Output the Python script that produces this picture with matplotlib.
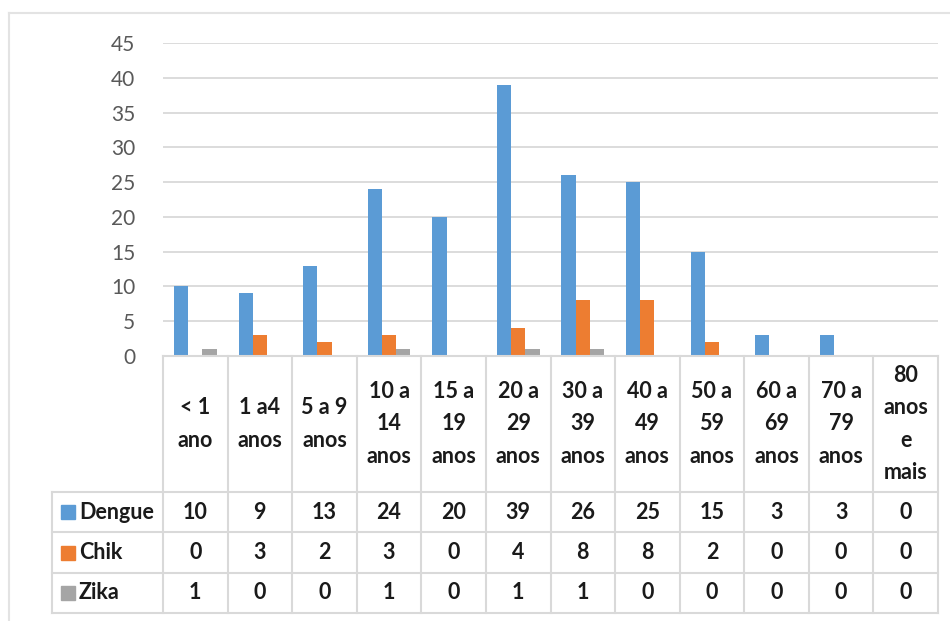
import matplotlib
matplotlib.use("Agg")
import matplotlib.pyplot as plt
from matplotlib.lines import Line2D
from matplotlib.patches import Rectangle
import numpy as np

plt.rcParams['font.family'] = ['Lato', 'DejaVu Sans']

categories = ["< 1\nano", "1 a4\nanos", "5 a 9\nanos", "10 a\n14\nanos", "15 a\n19\nanos",
              "20 a\n29\nanos", "30 a\n39\nanos", "40 a\n49\nanos", "50 a\n59\nanos",
              "60 a\n69\nanos", "70 a\n79\nanos", "80\nanos\ne\nmais"]
series_names = ["Dengue", "Chik", "Zika"]
dengue = [10, 9, 13, 24, 20, 39, 26, 25, 15, 3, 3, 0]
chik = [0, 3, 2, 3, 0, 4, 8, 8, 2, 0, 0, 0]
zika = [1, 0, 0, 1, 0, 1, 1, 0, 0, 0, 0, 0]
yticks = [0, 5, 10, 15, 20, 25, 30, 35, 40, 45]

colors = ["#5B9BD5", "#ED7D31", "#A5A5A5"]
grid_c = "#D9D9D9"
W, H = 950, 621

fig = plt.figure(figsize=(W / 100, H / 100), dpi=100)

def fx(px):
    return px / W

def fy(py):
    return 1 - py / H

# outer border (top and left visible)
fig.add_artist(Line2D([fx(9), 1], [fy(13), fy(13)], color="#E3E3E3", lw=1.5))
fig.add_artist(Line2D([fx(9), fx(9)], [fy(13), 0], color="#E3E3E3", lw=1.5))

x_left, x_right = 163, 938
y_zero, y_top = 356, 43
ax = fig.add_axes([fx(x_left), fy(y_zero), fx(x_right) - fx(x_left), fy(y_top) - fy(y_zero)])
n = len(categories)
x = np.arange(n) + 0.5
w = 0.22
for i, (vals, c) in enumerate(zip([dengue, chik, zika], colors)):
    ax.bar(x + (i - 1) * w, vals, width=w, color=c, zorder=3)
ax.set_xlim(0, n)
ax.set_ylim(0, 45)
ax.set_yticks(yticks)
ax.set_xticks([])
ax.yaxis.grid(True, color=grid_c, lw=1.3, zorder=0)
for s in ax.spines.values():
    s.set_visible(False)
ax.tick_params(axis='y', length=0, pad=20, labelsize=15, labelcolor="#595959")

# table
colw = (x_right - x_left) / n
L = (x_left - 52) / colw
tab_top, tab_bot = 356, 613
tax = fig.add_axes([fx(52), fy(tab_bot), fx(x_right) - fx(52), fy(tab_top) - fy(tab_bot)])
tax.set_xlim(-L, n)
tax.set_ylim(tab_bot - tab_top, 0)
tax.axis('off')
hdr = 136
rowh = (tab_bot - tab_top - hdr) / 3
lc = grid_c
lw = 1.5
tax.plot([0, n], [0, 0], color=lc, lw=lw, clip_on=False)
for k in range(4):
    yy = hdr + k * rowh
    tax.plot([-L, n], [yy, yy], color=lc, lw=lw, clip_on=False)
tax.plot([-L, -L], [hdr, hdr + 3 * rowh], color=lc, lw=lw, clip_on=False)
for j in range(n + 1):
    tax.plot([j, j], [0, hdr + 3 * rowh], color=lc, lw=lw, clip_on=False)

tcol = "#1A1A1A"
fs = 15.5
for j, cat in enumerate(categories):
    tax.text(j + 0.5, hdr / 2, cat, ha='center', va='center', fontsize=fs,
             fontweight='bold', color=tcol, linespacing=1.65)
for k, (name, vals, c) in enumerate(zip(series_names, [dengue, chik, zika], colors)):
    yc = hdr + (k + 0.5) * rowh
    msz = 14 / colw
    tax.add_patch(Rectangle((-L + 9 / colw, yc - 7), msz, 14, color=c, clip_on=False))
    tax.text(-L + 27 / colw, yc, name, ha='left', va='center', fontsize=fs,
             fontweight='bold', color=tcol)
    for j, v in enumerate(vals):
        tax.text(j + 0.5, yc, str(v), ha='center', va='center', fontsize=fs,
                 fontweight='bold', color=tcol)

fig.savefig("out.png", dpi=100)
